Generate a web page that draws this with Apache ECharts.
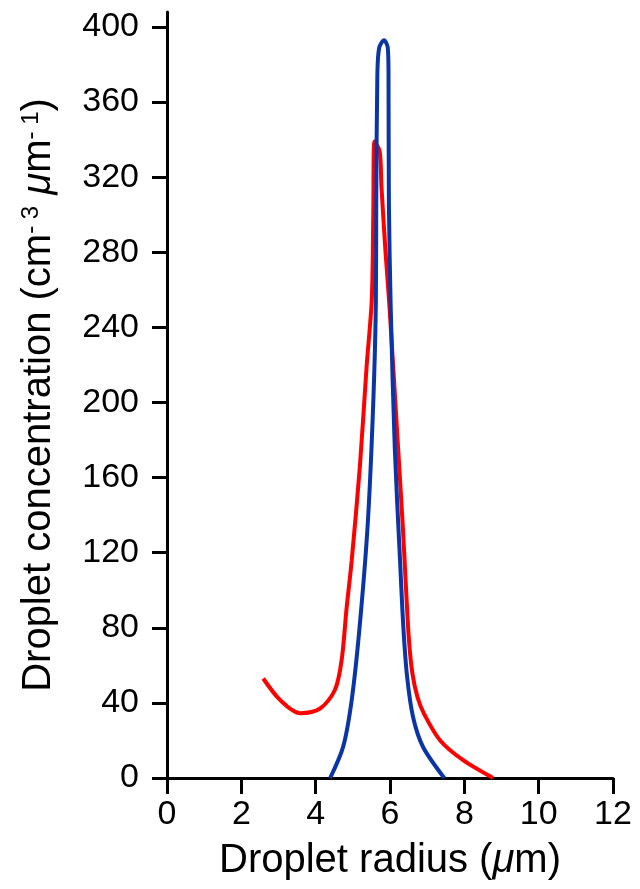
<!DOCTYPE html>
<html>
<head>
<meta charset="utf-8">
<script src="https://cdn.jsdelivr.net/npm/echarts@6/dist/echarts.min.js"></script>
<style>
html,body{margin:0;padding:0;background:#fff;}
#chart{width:640px;height:889px;}
</style>
</head>
<body>
<div id="chart"></div>
<script>
// Blue curve (droplet radius in µm, concentration)
const blueX = [4.39, 4.74, 4.97, 5.18, 5.40, 5.55, 5.62, 5.63, 5.66, 5.71, 5.84, 5.94, 5.96, 5.97, 6.02, 6.13, 6.27, 6.36, 6.46, 6.62, 6.89, 7.46];
const blueY = [0, 16.7, 41.6, 80, 135, 200, 254, 306, 375, 389, 393, 389, 375, 306, 250, 175, 116, 80, 54, 32.5, 16.5, 0];
// Red curve
const redX = [2.59, 3.04, 3.58, 4.12, 4.52, 4.70, 4.83, 4.97, 5.19, 5.37, 5.51, 5.55, 5.58, 5.72, 5.77, 5.88, 5.99, 6.22, 6.35, 6.44, 6.51, 6.60, 6.74, 6.92, 7.35, 7.96, 8.77];
const redY = [53, 41.6, 34.5, 37, 47, 63, 90, 116, 166, 219, 255, 300, 339, 334, 315, 280, 250, 175, 132, 97.5, 73.5, 56, 43, 34, 20, 9.6, 0];
// Tick values
const xTicks = [0, 2, 4, 6, 8, 10, 12];
const yTicks = [0, 40, 80, 120, 160, 200, 240, 280, 320, 360, 400];

const FONT = "'Liberation Sans', Arial, Helvetica, sans-serif";
const pair = (xs, ys) => xs.map((x, i) => [x, ys[i]]);

const chart = echarts.init(document.getElementById('chart'));
chart.setOption({
  animation: false,
  backgroundColor: '#fff',
  grid: { left: 167, right: 27, top: 12, bottom: 111 },
  xAxis: {
    type: 'value', min: 0, max: 12, interval: 2,
    splitLine: { show: false },
    axisLine: { show: true, onZero: false, lineStyle: { color: '#000', width: 3 } },
    axisTick: { show: true, length: 16, lineStyle: { color: '#000', width: 3 }, customValues: xTicks },
    axisLabel: { color: '#000', fontSize: 34, fontFamily: FONT, margin: 20, customValues: xTicks },
    name: '{t|Droplet radius (}{mu|μ}{t|m)}',
    nameLocation: 'middle', nameGap: 63,
    nameTextStyle: {
      color: '#000', fontSize: 40, fontFamily: FONT,
      rich: {
        t: { fontSize: 40, fontFamily: FONT, color: '#000' },
        mu: { fontSize: 40, fontFamily: FONT, fontStyle: 'italic', color: '#000' }
      }
    }
  },
  yAxis: {
    type: 'value', min: 0, max: 408, interval: 40,
    splitLine: { show: false },
    axisLine: { show: true, lineStyle: { color: '#000', width: 3 } },
    axisTick: { show: true, length: 15, lineStyle: { color: '#000', width: 3 }, customValues: yTicks },
    axisLabel: { color: '#000', fontSize: 34, fontFamily: FONT, margin: 28, customValues: yTicks },
    name: '{t|Droplet concentration (cm}{s|- 3}{t| }{mu|μ}{t|m}{s|- 1}{t|)}',
    nameLocation: 'middle', nameGap: 108,
    nameTextStyle: {
      color: '#000', fontSize: 40, fontFamily: FONT,
      rich: {
        t: { fontSize: 40, fontFamily: FONT, color: '#000' },
        s: { fontSize: 24, fontFamily: FONT, color: '#000', verticalAlign: 'top' },
        mu: { fontSize: 40, fontFamily: FONT, fontStyle: 'italic', color: '#000' }
      }
    }
  },
  series: [
    {
      type: 'line', data: pair(redX, redY), smooth: 0.3, symbol: 'none',
      lineStyle: { color: '#ff0000', width: 4 }, z: 2
    },
    {
      type: 'line', data: pair(blueX, blueY), smooth: 0.3, symbol: 'none',
      lineStyle: { color: '#0a35a8', width: 4 }, z: 3
    }
  ]
});
</script>
</body>
</html>
